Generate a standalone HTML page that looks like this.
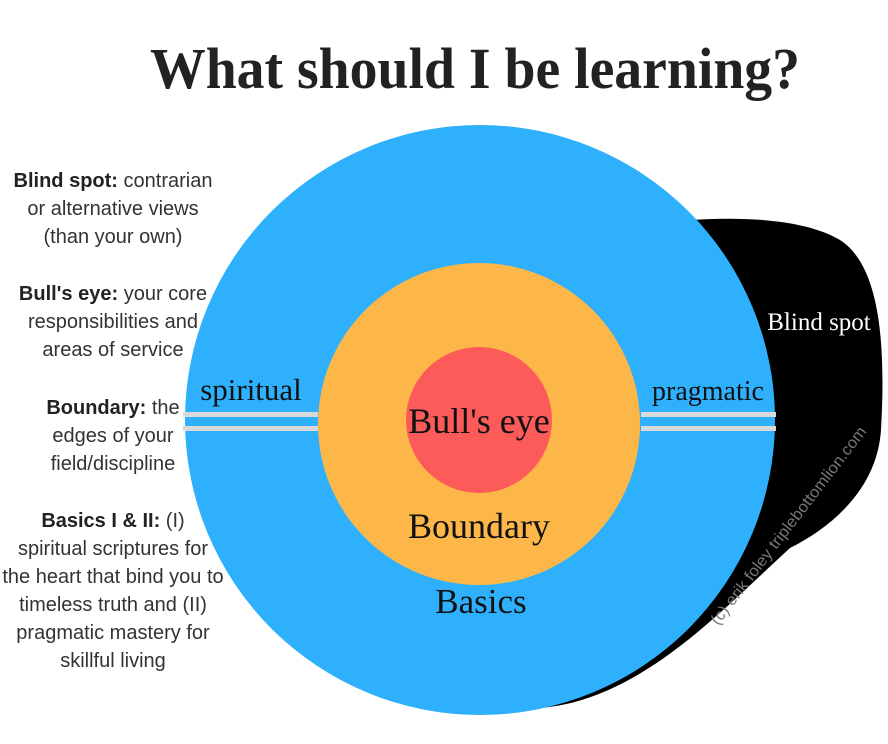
<!DOCTYPE html>
<html><head><meta charset="utf-8"><style>
html,body{margin:0;padding:0;background:#fff;}
body{width:888px;height:744px;position:relative;overflow:hidden;font-family:"Liberation Sans",sans-serif;}
.t{position:absolute;text-align:center;color:#333;font-size:20px;line-height:28px;}
.t b{color:#222;}
</style></head><body>
<svg width="888" height="744" style="position:absolute;left:0;top:0">
<text x="150" y="88" textLength="650" lengthAdjust="spacingAndGlyphs" font-family="Liberation Serif,serif" font-weight="bold" font-size="58" fill="#222">What should I be learning?</text>
<path d="M600 232 C680 216,790 210,840 240 C884 268,885 360,881 430 C877 490,830 528,790 548 C720 612,640 700,540 708 L470 700 Z" fill="#000"/>
<circle cx="480" cy="420" r="295" fill="#2eb0fc"/>
<circle cx="479" cy="424" r="161" fill="#fdb748"/>
<circle cx="479" cy="420" r="73" fill="#fc5b5a"/>
<rect x="183" y="412" width="135" height="5" fill="#d9d9d9"/>
<rect x="183" y="426" width="135" height="5" fill="#d9d9d9"/>
<rect x="641" y="412" width="135" height="5" fill="#d9d9d9"/>
<rect x="641" y="426" width="135" height="5" fill="#d9d9d9"/>
<g font-family="Liberation Serif,serif" fill="#111">
<text x="251" y="400" text-anchor="middle" font-size="31">spiritual</text>
<text x="708" y="400" text-anchor="middle" font-size="28">pragmatic</text>
<text x="479" y="433" text-anchor="middle" font-size="36">Bull's eye</text>
<text x="479" y="538" text-anchor="middle" font-size="36">Boundary</text>
<text x="481" y="613" text-anchor="middle" font-size="35">Basics</text>
<text x="819" y="330" text-anchor="middle" font-size="25" fill="#fff">Blind spot</text>
</g>
<text transform="translate(718,626) rotate(-52.5)" font-family="Liberation Sans,sans-serif" font-size="16" textLength="245" lengthAdjust="spacingAndGlyphs" fill="#777">(c) erik foley triplebottomlion.com</text>
</svg>
<div class="t" style="left:0;top:167px;width:226px"><b>Blind spot:</b> contrarian<br>or alternative views<br>(than your own)</div>
<div class="t" style="left:0;top:280px;width:226px"><b>Bull's eye:</b> your core<br>responsibilities and<br>areas of service</div>
<div class="t" style="left:0;top:394px;width:226px"><b>Boundary:</b> the<br>edges of your<br>field/discipline</div>
<div class="t" style="left:-6px;top:507px;width:238px"><b>Basics I &amp; II:</b> (I)<br>spiritual scriptures for<br>the heart that bind you to<br>timeless truth and (II)<br>pragmatic mastery for<br>skillful living</div>
</body></html>
